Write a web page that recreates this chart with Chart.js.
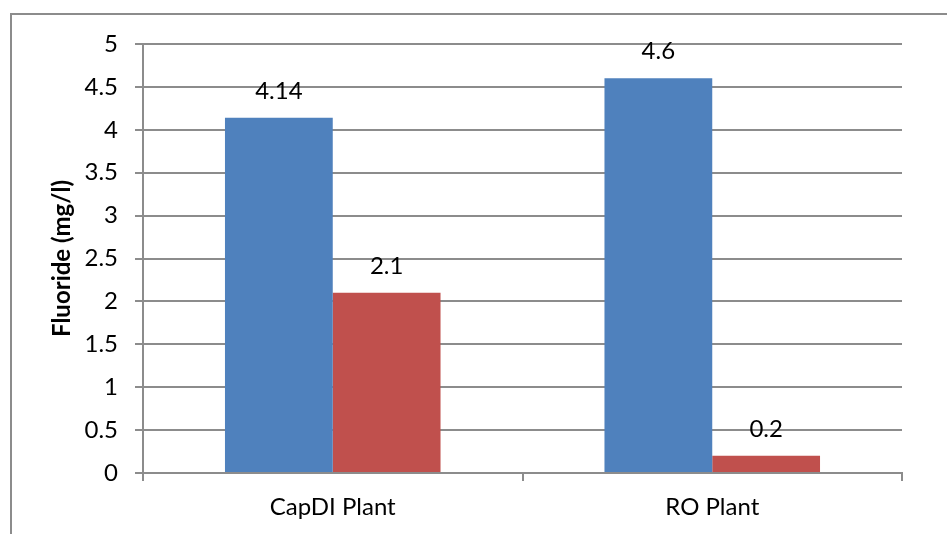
<!DOCTYPE html>
<html>
<head>
<meta charset="utf-8">
<script src="https://cdn.jsdelivr.net/npm/chart.js@4/dist/chart.umd.min.js"></script>
<style>
  html, body { margin: 0; padding: 0; background: #fff; }
  #wrap { position: relative; width: 947px; height: 534px; }
  #frame { position: absolute; left: 10px; top: 13px; right: 0; bottom: -5px;
           border-left: 2px solid #8c8c8c; border-top: 2px solid #8c8c8c; pointer-events: none; }
  canvas { position: absolute; left: 0; top: 0; }
</style>
</head>
<body>
<div id="wrap">
  <canvas id="fluorideChart" width="947" height="534"></canvas>
  <div id="frame"></div>
</div>
<script>
const plants = ["CapDI Plant", "RO Plant"];
const feedFluoride = [4.14, 4.6];
const productFluoride = [2.1, 0.2];

const fontFamily = "Lato, 'Open Sans', sans-serif";

// value labels above each bar
const barLabels = {
  id: "barLabels",
  afterDatasetsDraw(chart) {
    const ctx = chart.ctx;
    ctx.save();
    ctx.font = "24px " + fontFamily;
    ctx.fillStyle = "#000";
    ctx.textAlign = "center";
    ctx.textBaseline = "alphabetic";
    chart.data.datasets.forEach((ds, i) => {
      chart.getDatasetMeta(i).data.forEach((bar, j) => {
        ctx.fillText(String(ds.data[j]), bar.x, bar.y - 19);
      });
    });
    ctx.restore();
  }
};

new Chart(document.getElementById("fluorideChart"), {
  type: "bar",
  data: {
    labels: plants,
    datasets: [
      { data: feedFluoride, backgroundColor: "#4f81bd" },
      { data: productFluoride, backgroundColor: "#c0504d" }
    ]
  },
  options: {
    responsive: false,
    animation: false,
    layout: { padding: { top: 44, right: 45, left: 48, bottom: 0 } },
    plugins: { legend: { display: false }, tooltip: { enabled: false } },
    datasets: { bar: { categoryPercentage: 0.568, barPercentage: 1 } },
    scales: {
      x: {
        afterFit: s => { s.height = 61; },
        grid: { offset: true, drawOnChartArea: false, drawTicks: true, tickLength: 8, color: "#8c8c8c", lineWidth: 2 },
        border: { color: "#8c8c8c", width: 2 },
        ticks: { color: "#000", font: { family: fontFamily, size: 24 }, padding: 12 }
      },
      y: {
        min: 0,
        max: 5,
        afterFit: s => { s.width = 95; },
        grid: { color: "#8c8c8c", lineWidth: 2, tickLength: 8 },
        border: { color: "#8c8c8c", width: 2 },
        ticks: {
          stepSize: 0.5,
          color: "#000",
          font: { family: fontFamily, size: 24 },
          padding: 17,
          callback: v => String(v)
        },
        title: {
          display: true,
          text: "Fluoride (mg/l)",
          color: "#000",
          font: { family: fontFamily, size: 24, weight: "bold" },
          padding: { top: 0, bottom: 0 }
        }
      }
    }
  },
  plugins: [barLabels]
});
</script>
</body>
</html>
